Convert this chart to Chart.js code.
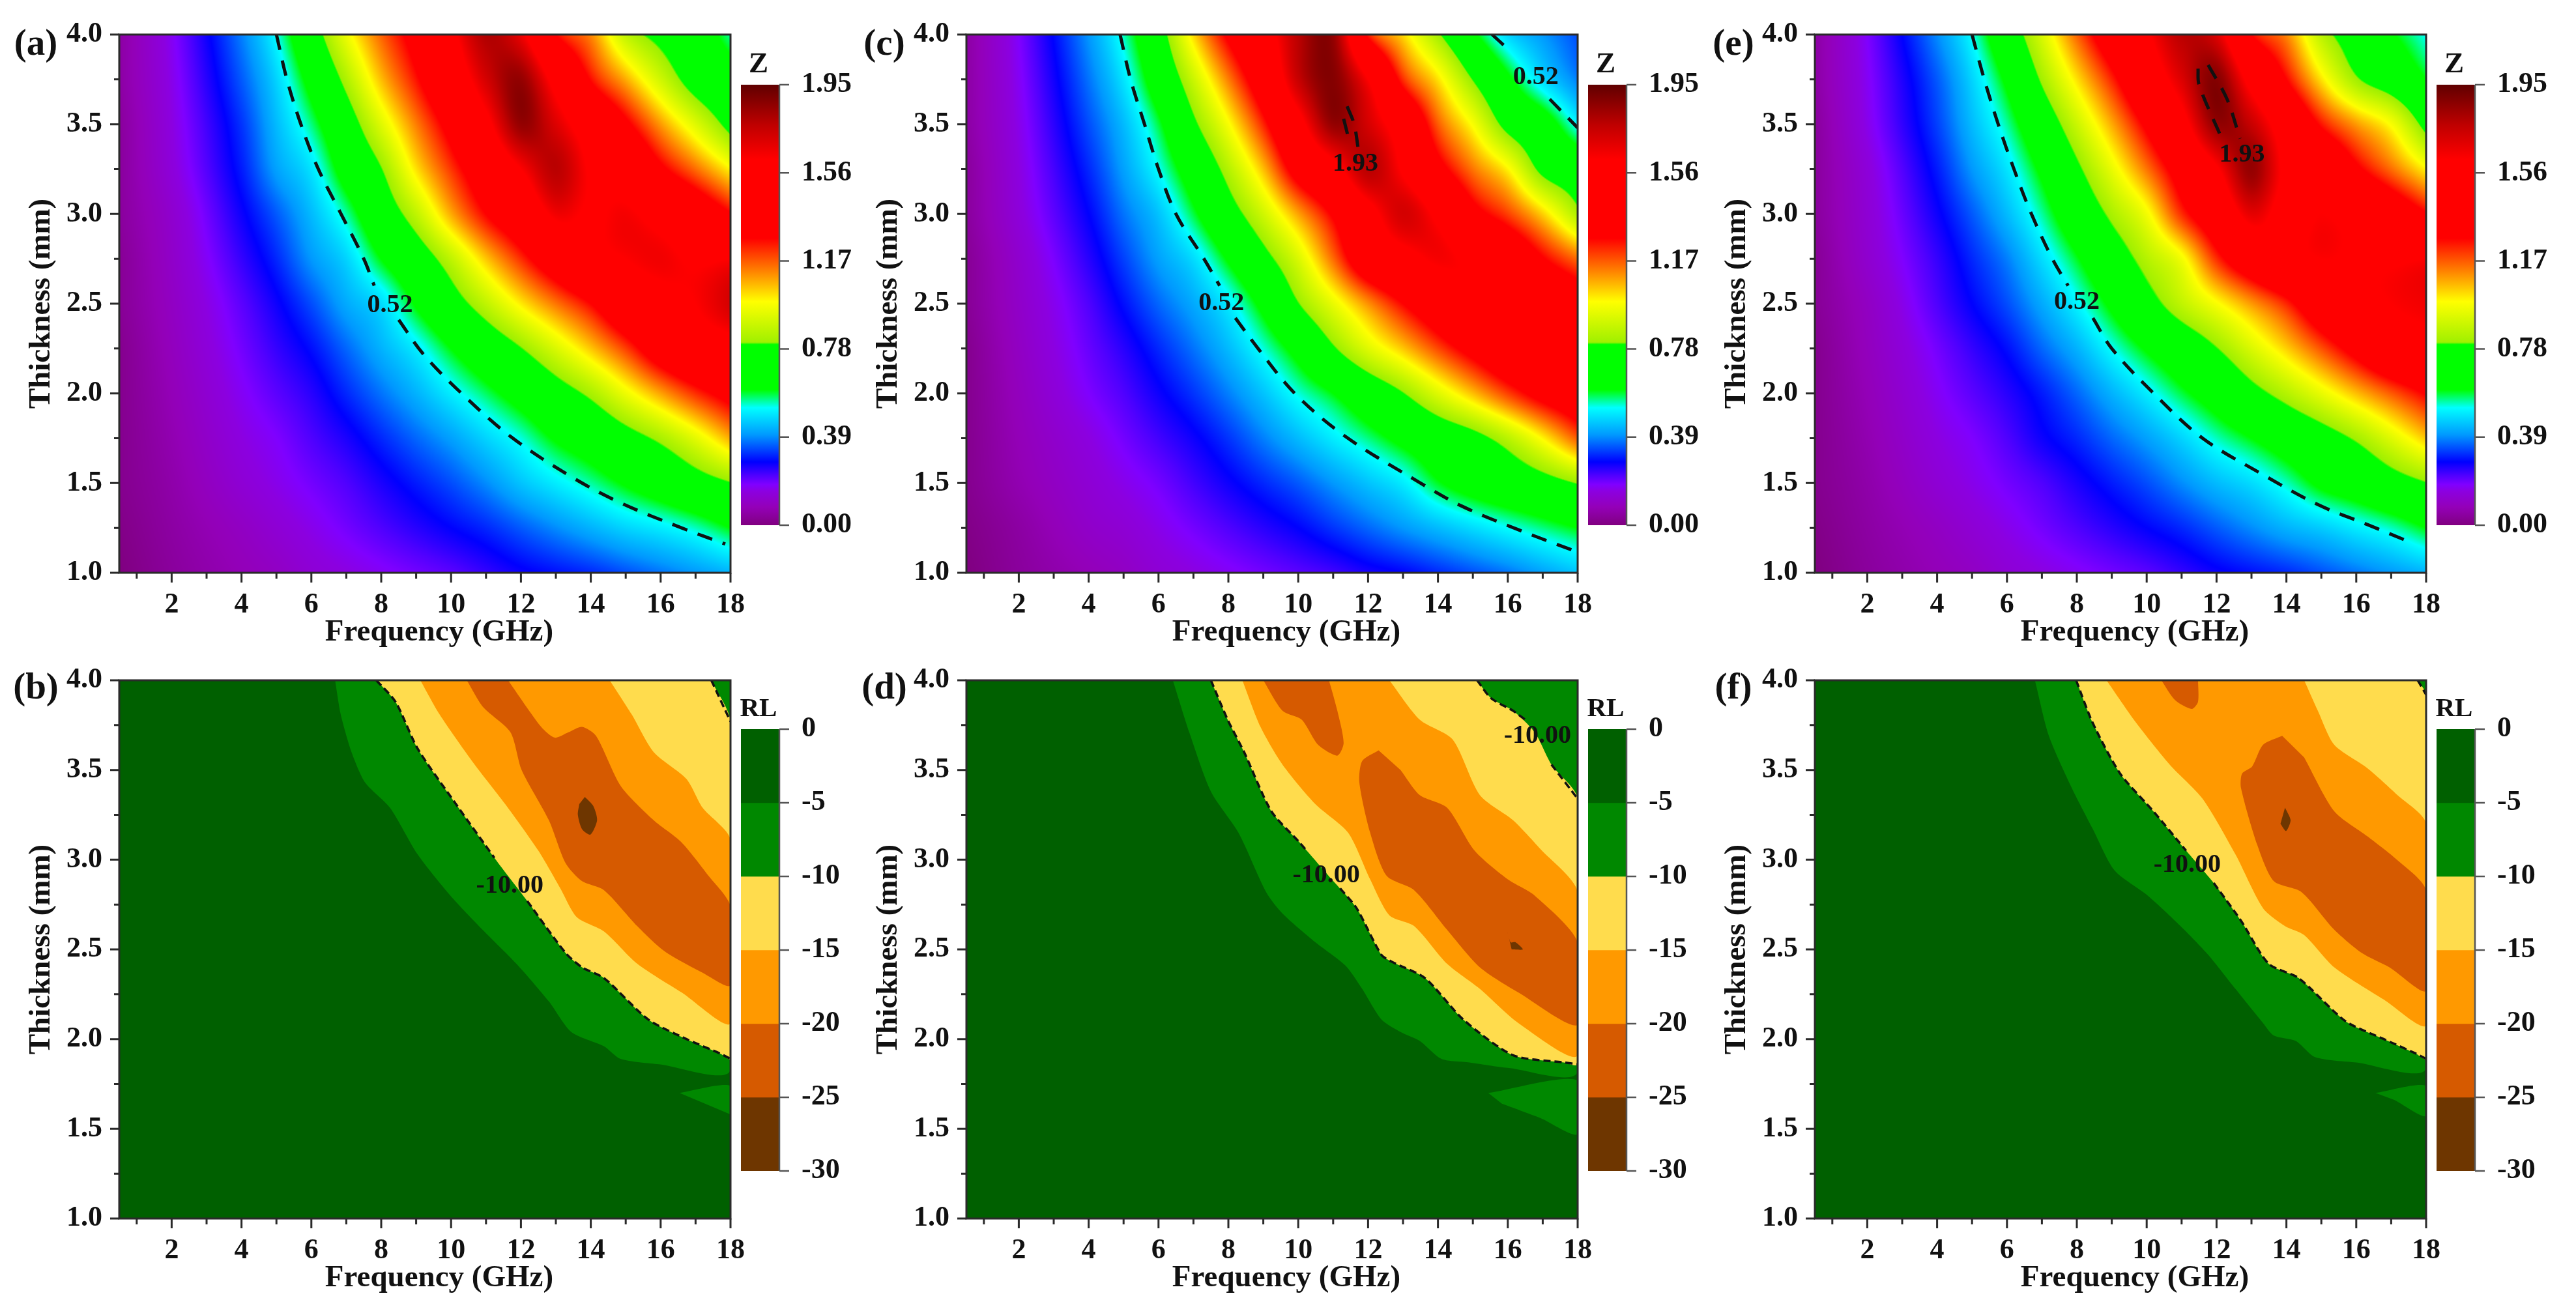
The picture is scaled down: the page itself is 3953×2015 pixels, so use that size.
<!DOCTYPE html>
<html>
<head>
<meta charset="utf-8">
<title>Z and RL maps</title>
<script src="https://cdn.jsdelivr.net/npm/chart.js@4"></script>
<style>
  html, body { margin: 0; background: #fff; }
  #page { position: relative; width: 3953px; height: 2015px; overflow: hidden; }
  canvas { position: absolute; }
  .txt { position: absolute; font-family: "Liberation Serif", serif; font-weight: bold; color: #111; line-height: 1; transform: translate(-50%, -50%); white-space: nowrap; }
</style>
</head>
<body>
<div id="page"></div>
<script>
// grid of the Z maps
const freqCols = [0.5, 2, 4, 5, 6, 7, 8, 9, 10, 11, 12, 13, 14, 15, 16, 17, 18]
const thickRows = [4, 3.75, 3.5, 3.25, 3, 2.75, 2.5, 2.25, 2, 1.75, 1.5, 1.25, 1]

const zGridA = [
  [.05,.17,.38,.52,.73,.96,1.16,1.34,1.58,1.80,1.66,1.27,1.12,.87,.76,.68,.55],
  [.05,.16,.35,.47,.64,.84,1.06,1.25,1.47,1.72,1.85,1.55,1.26,1.08,.90,.74,.66],
  [.04,.15,.32,.44,.56,.73,.93,1.13,1.33,1.57,1.85,1.70,1.50,1.30,1.10,.93,.76],
  [.04,.14,.30,.41,.49,.65,.80,1.02,1.21,1.40,1.62,1.78,1.60,1.50,1.30,1.15,1.00],
  [.04,.12,.27,.35,.44,.55,.71,.87,1.08,1.27,1.43,1.65,1.60,1.64,1.55,1.42,1.28],
  [.03,.11,.24,.31,.40,.47,.60,.72,.87,1.05,1.22,1.40,1.55,1.62,1.65,1.60,1.62],
  [.03,.10,.21,.27,.34,.42,.48,.61,.74,.87,1.01,1.14,1.27,1.45,1.55,1.62,1.72],
  [.02,.09,.19,.24,.29,.36,.43,.50,.60,.70,.80,.92,1.05,1.20,1.38,1.50,1.55],
  [.02,.08,.17,.21,.25,.31,.37,.43,.50,.57,.65,.74,.83,.96,1.09,1.22,1.33],
  [.02,.07,.15,.18,.22,.26,.31,.36,.41,.47,.53,.61,.67,.75,.83,.94,1.08],
  [.02,.06,.13,.16,.19,.22,.26,.30,.34,.39,.45,.50,.55,.61,.67,.74,.80],
  [.01,.05,.10,.13,.16,.19,.22,.25,.28,.31,.35,.39,.43,.47,.50,.54,.60],
  [.00,.04,.08,.10,.13,.15,.17,.19,.21,.24,.27,.29,.31,.34,.37,.40,.43]
]
const zGridC = [
  [.05,.18,.40,.54,.74,1.03,1.30,1.52,1.78,1.85,1.24,1.03,.82,.62,.47,.40,.34],
  [.05,.17,.37,.49,.67,.89,1.13,1.40,1.75,1.88,1.62,1.22,1.02,.80,.62,.48,.38],
  [.05,.16,.34,.44,.58,.78,.98,1.23,1.55,1.85,1.72,1.50,1.17,.98,.76,.66,.51],
  [.04,.15,.31,.41,.52,.67,.85,1.06,1.35,1.55,1.78,1.60,1.33,1.14,1.00,.77,.70],
  [.04,.14,.28,.37,.45,.58,.74,.90,1.09,1.29,1.55,1.72,1.58,1.33,1.20,1.04,.84],
  [.03,.12,.25,.33,.41,.48,.61,.76,.92,1.15,1.42,1.55,1.64,1.58,1.45,1.28,1.15],
  [.03,.11,.22,.29,.36,.42,.50,.63,.80,.95,1.11,1.27,1.42,1.58,1.55,1.48,1.40],
  [.02,.10,.20,.25,.31,.37,.44,.53,.64,.79,.93,1.05,1.19,1.33,1.45,1.55,1.62],
  [.02,.09,.18,.22,.27,.32,.38,.45,.53,.60,.70,.80,.93,1.06,1.20,1.33,1.42],
  [.02,.08,.15,.19,.23,.27,.32,.38,.44,.50,.56,.63,.70,.76,.86,1.00,1.17],
  [.02,.07,.13,.16,.19,.23,.27,.31,.35,.40,.45,.50,.59,.65,.70,.75,.81],
  [.01,.05,.11,.13,.16,.19,.22,.25,.28,.32,.36,.40,.44,.48,.52,.56,.60],
  [.00,.04,.08,.10,.13,.15,.17,.19,.21,.23,.26,.28,.31,.34,.37,.41,.45]
]
const zGridE = [
  [.05,.18,.39,.52,.71,.92,1.16,1.40,1.60,1.78,1.70,1.27,1.12,.86,.72,.61,.52],
  [.05,.17,.35,.47,.62,.82,1.02,1.23,1.48,1.70,1.88,1.55,1.27,1.02,.82,.72,.60],
  [.04,.16,.33,.44,.55,.71,.89,1.08,1.30,1.55,1.85,1.75,1.50,1.25,1.10,.98,.76],
  [.04,.14,.30,.40,.49,.62,.78,.95,1.14,1.36,1.60,1.85,1.58,1.50,1.30,1.15,1.00],
  [.04,.13,.27,.35,.44,.55,.69,.83,.97,1.22,1.42,1.68,1.55,1.62,1.55,1.42,1.28],
  [.03,.12,.24,.31,.38,.48,.59,.72,.85,.97,1.22,1.42,1.55,1.62,1.60,1.60,1.62],
  [.03,.10,.22,.28,.34,.42,.51,.62,.75,.87,.98,1.10,1.23,1.42,1.55,1.62,1.65],
  [.02,.09,.19,.24,.29,.36,.43,.52,.61,.70,.80,.92,1.04,1.18,1.33,1.48,1.55],
  [.02,.08,.17,.21,.25,.30,.36,.43,.50,.58,.66,.76,.85,.95,1.06,1.17,1.28],
  [.02,.07,.15,.18,.22,.27,.31,.36,.41,.47,.54,.60,.67,.74,.82,.93,1.05],
  [.02,.06,.13,.16,.19,.22,.26,.30,.34,.39,.44,.48,.54,.62,.67,.74,.80],
  [.01,.05,.10,.13,.16,.19,.22,.25,.28,.31,.35,.39,.43,.46,.50,.54,.60],
  [.00,.04,.08,.10,.13,.15,.17,.19,.21,.24,.27,.29,.31,.34,.37,.40,.43]
]

// dashed contours of the Z maps, [frequency, thickness]
const zLineA1 = [[5,4],[5.3,3.75],[5.7,3.5],[6.2,3.25],[6.85,3],[7.5,2.75],[7.8,2.6]]
const zLineA2 = [[8.5,2.41],[9.2,2.22],[10.3,2],[11.7,1.76],[13.4,1.54],[14.85,1.39],[16.6,1.25],[17.85,1.16]]
const zLineC1 = [[4.9,4],[5.2,3.75],[5.6,3.5],[6,3.25],[6.5,3],[7.3,2.75],[7.75,2.6]]
const zLineC2 = [[8.2,2.42],[8.85,2.25],[9.9,2],[11.35,1.76],[13.5,1.5],[14.7,1.37],[16.3,1.24],[18,1.115]]
const zLineC3 = [[15.55,4],[16,3.92]]
const zLineC4 = [[17.2,3.64],[18,3.48]]
const zLineC5 = [[11.4,3.6],[11.6,3.5],[11.72,3.36]]
const zLineC6 = [[11.3,3.53],[11.43,3.43]]
const zLineE1 = [[5,4],[5.35,3.75],[5.75,3.5],[6.2,3.25],[6.7,3],[7.3,2.75],[7.75,2.6]]
const zLineE2 = [[8.46,2.42],[9,2.25],[10.2,2],[11.6,1.75],[13.3,1.55],[14.9,1.38],[16.3,1.27],[17.55,1.17]]
const zLineE3 = [[11.47,3.81],[11.5,3.72],[12.15,3.42]]
const zLineE4 = [[11.76,3.83],[12.3,3.64],[12.67,3.42]]

// RL band outlines, [frequency, thickness]
const rlFrame = [[0.5,1],[18,1],[18,4],[0.5,4]]
const bBand5 = [[6.68,4],[6.84,3.81],[7.15,3.6],[7.54,3.43],[8.25,3.29],[9.04,3.03],[9.98,2.8],[10.9,2.61],[11.87,2.42],[12.8,2.21],[13.44,2.04],[14.38,1.96],[14.85,1.89],[15.95,1.86],[18,1.83],[18,4]]
const bWedge = [[16.54,1.7],[18,1.74],[18,1.58]]
const bBand10 = [[7.86,4],[8.41,3.88],[9.04,3.62],[10.14,3.31],[11.24,3.01],[12.18,2.77],[13.28,2.48],[13.75,2.4],[14.38,2.34],[15.64,2.11],[16.74,2],[17.7,1.92],[18,1.89],[18,3.77],[17.45,4]]
const bBand15 = [[9.12,4],[9.67,3.81],[10.6,3.55],[11.55,3.31],[12.5,3.05],[13.13,2.84],[13.6,2.68],[14.38,2.6],[15.33,2.42],[16.6,2.26],[18,2.09],[18,3.11],[17.2,3.29],[16.74,3.45],[15.8,3.6],[15.17,3.81],[14.54,4]]
const bBand20 = [[10.45,4],[10.92,3.85],[11.7,3.71],[12.02,3.5],[12.8,3.22],[13.28,2.98],[13.75,2.88],[14.38,2.83],[15.33,2.63],[16.11,2.49],[17.2,2.37],[18,2.3],[18,2.74],[17.37,2.91],[16.58,3.1],[15.8,3.22],[14.86,3.41],[14.15,3.69],[13.75,3.74],[13.36,3.71],[12.97,3.68],[12.58,3.74],[11.63,4]]
const bBand25 = [[13.83,3.35],[14.07,3.3],[14.18,3.22],[13.99,3.14],[13.75,3.17],[13.63,3.25],[13.67,3.31]]
const bLine1 = [[7.86,4],[8.41,3.88],[9.04,3.62],[10.14,3.31],[11.24,3.01]]
const bLine2 = [[12.18,2.77],[13.28,2.48],[13.75,2.4],[14.38,2.34],[15.64,2.11],[16.74,2],[17.7,1.92],[18,1.89]]
const bLine3 = [[17.45,4],[18,3.77]]

const dBand5 = [[6.41,4],[6.88,3.71],[7.5,3.38],[8.29,3.15],[9.08,2.82],[9.55,2.7],[10.49,2.54],[11.35,2.41],[11.83,2.28],[12.38,2.11],[12.93,2.04],[13.48,1.99],[14.1,1.89],[14.9,1.87],[16,1.84],[18,1.82],[18,4]]
const dWedge = [[15.44,1.7],[18,1.77],[18,1.47],[16.93,1.56],[15.83,1.64]]
const dBand10 = [[7.5,4],[7.98,3.78],[8.45,3.6],[9.23,3.27],[10.02,3.1],[10.96,2.89],[11.67,2.73],[12.38,2.47],[12.69,2.43],[13.63,2.34],[14.72,2.11],[16.15,1.91],[17.6,1.87],[18,1.86],[18,3.34],[17.25,3.53],[16.77,3.71],[16.15,3.83],[15.52,3.9],[15.12,4]]
const dBand15 = [[8.4,4],[8.92,3.74],[9.55,3.53],[10.49,3.31],[11.43,3.15],[12.06,2.89],[12.61,2.69],[13.32,2.63],[14.26,2.42],[15.2,2.28],[16.3,2.09],[18,1.91],[18,2.82],[16.93,3.06],[16.15,3.22],[15.2,3.36],[14.42,3.67],[13.48,3.78],[12.61,4]]
const dBand20a = [[9,4],[9.55,3.83],[10.1,3.78],[10.57,3.64],[11.12,3.58],[11.3,3.65],[11.12,3.83],[10.88,4]]
const dBand20b = [[12.3,3.61],[11.83,3.55],[11.75,3.43],[12.06,3.15],[12.53,2.91],[13.32,2.83],[14.26,2.61],[15.2,2.4],[16.3,2.26],[18,2.08],[18,2.54],[16.77,2.8],[16,2.89],[15.05,3.05],[14.26,3.29],[13.48,3.36],[12.93,3.5]]
const dBand25 = [[15.99,2.6],[16.08,2.54],[16.22,2.54],[16.43,2.5],[16.11,2.5]]
const dLine1 = [[7.5,4],[7.98,3.78],[8.45,3.6],[9.23,3.27],[10.02,3.1],[10.2,3.06]]
const dLine2 = [[11.2,2.84],[11.67,2.73],[12.38,2.47],[12.69,2.43],[13.63,2.34],[14.72,2.11],[16.15,1.91],[17.6,1.87],[18,1.86]]
const dLine3 = [[15.12,4],[15.52,3.9],[16.15,3.83],[16.5,3.78]]
const dLine4 = [[17.25,3.53],[18,3.34]]

const fBand5 = [[6.8,4],[7.2,3.69],[7.83,3.41],[8.46,3.17],[9.08,2.94],[10.03,2.8],[10.97,2.63],[11.76,2.47],[12.54,2.28],[13.33,2.09],[13.64,2.02],[14.27,1.99],[14.82,1.9],[16,1.87],[18,1.84],[18,4]]
const fWedge = [[16.55,1.7],[18,1.74],[18,1.57],[17.1,1.66]]
const fBand10 = [[7.98,4],[8.46,3.76],[9.24,3.48],[10.19,3.27],[11.13,3.05],[11.92,2.87],[12.7,2.66],[13.49,2.42],[14.35,2.34],[15.69,2.1],[16.79,2],[17.7,1.92],[18,1.89],[18,3.92],[17.76,4]]
const fBand15 = [[8.85,4],[9.71,3.76],[10.66,3.53],[11.6,3.34],[12.54,3.03],[13.33,2.73],[13.96,2.63],[14.51,2.58],[15.37,2.4],[16.79,2.22],[18,2.08],[18,3.2],[17.18,3.36],[16.32,3.51],[15.37,3.64],[14.9,3.83],[14.51,4]]
const fBand20a = [[10.42,4],[10.81,3.89],[11.29,3.84],[11.47,3.88],[11.47,4]]
const fBand20b = [[13.88,3.69],[13.33,3.64],[13.02,3.52],[12.73,3.48],[12.7,3.4],[13.17,3.08],[13.64,2.88],[14.43,2.82],[15.37,2.61],[16.16,2.48],[16.95,2.4],[18,2.27],[18,2.83],[17.1,3.01],[16.32,3.13],[15.37,3.27],[14.51,3.57]]
const fBand25 = [[13.96,3.29],[14.12,3.22],[13.99,3.16],[13.83,3.2]]
const fLine1 = [[7.98,4],[8.46,3.76],[9.24,3.48],[10.19,3.27],[11.13,3.05]]
const fLine2 = [[11.92,2.87],[12.7,2.66],[13.49,2.42],[14.35,2.34],[15.69,2.1],[16.79,2],[17.7,1.92],[18,1.89]]
const fLine3 = [[17.76,4],[18,3.92]]

// ticks and colour bars
const freqTicks = [2, 4, 6, 8, 10, 12, 14, 16, 18]
const freqMinor = [1, 3, 5, 7, 9, 11, 13, 15, 17]
const thickTicks = [1, 1.5, 2, 2.5, 3, 3.5, 4]
const thickMinor = [1.25, 1.75, 2.25, 2.75, 3.25, 3.75]
const zBarTicks = [0, 0.39, 0.78, 1.17, 1.56, 1.95]
const rlBarTicks = [-30, -25, -20, -15, -10, -5, 0]
const zStops = [0, .08, .15, .18, .22, .28, .40, .52, .60, .80, .81, .99, 1.11, 1.27, 1.62, 1.77, 1.95]
const zColors = ['#800080', '#9400b8', '#8c00e0', '#8000ff', '#5000ff', '#0000ff', '#0099ff', '#00ffff', '#00ff00', '#00ff00', '#a0f000', '#ffff00', '#ff9000', '#ff0000', '#ff0000', '#c00000', '#600000']
const rlBands = [[-5, 0], [-10, -5], [-15, -10], [-20, -15], [-25, -20], [-30, -25]]
const rlColors = ['#006000', '#008800', '#ffdc4d', '#ff9900', '#d65a00', '#6e3600']

const SERIF = "'Liberation Serif', serif"
Chart.defaults.font.family = SERIF
Chart.defaults.font.weight = 'bold'
Chart.defaults.color = '#111'
Chart.defaults.animation = false

const page = document.getElementById('page')
const PLOT_W = 938, PLOT_H = 826
const INK = '#2a2a2a'
const TICK_SIZE = 44, TITLE_SIZE = 47

function addCanvas(x, y, w, h) {
  const c = document.createElement('canvas')
  c.width = w
  c.height = h
  c.style.left = x + 'px'
  c.style.top = y + 'px'
  page.appendChild(c)
  return c
}

function addText(str, x, y, size) {
  const d = document.createElement('div')
  d.className = 'txt'
  d.textContent = str
  d.style.left = x + 'px'
  d.style.top = y + 'px'
  d.style.fontSize = size + 'px'
  page.appendChild(d)
}

// colour lookup for the Z scale
const lutSize = 2048
const lut = new Uint8Array(lutSize * 3)
function hexRgb(h) { return [1, 3, 5].map(i => parseInt(h.slice(i, i + 2), 16)) }
for (let i = 0; i < lutSize; i++) {
  const v = i / (lutSize - 1) * 1.95
  let k = 0
  while (k < zStops.length - 2 && v > zStops[k + 1]) k++
  const a = hexRgb(zColors[k]), b = hexRgb(zColors[k + 1])
  const u = (v - zStops[k]) / (zStops[k + 1] - zStops[k])
  for (let c = 0; c < 3; c++) lut[i * 3 + c] = a[c] + (b[c] - a[c]) * u
}

function hermite(xs, ys, x) {
  let i = 0
  const n = xs.length
  while (i < n - 2 && x > xs[i + 1]) i++
  const h = xs[i + 1] - xs[i]
  const u = Math.max(0, Math.min(1, (x - xs[i]) / h))
  const m0 = i > 0 ? (ys[i + 1] - ys[i - 1]) / (xs[i + 1] - xs[i - 1]) : (ys[1] - ys[0]) / h
  const m1 = i < n - 2 ? (ys[i + 2] - ys[i]) / (xs[i + 2] - xs[i]) : (ys[n - 1] - ys[n - 2]) / h
  const u2 = u * u, u3 = u2 * u
  return (2 * u3 - 3 * u2 + 1) * ys[i] + (u3 - 2 * u2 + u) * h * m0 + (-2 * u3 + 3 * u2) * ys[i + 1] + (u3 - u2) * h * m1
}

// paints the Z grid behind the datasets, every pixel goes through the scales
function heatPlugin(grid) {
  let cache = null
  const rowsUp = [...thickRows].reverse()
  const gridUp = [...grid].reverse()
  return {
    id: 'heat',
    beforeDatasetsDraw(chart) {
      const a = chart.chartArea, xs = chart.scales.x, ys = chart.scales.y
      const w = Math.round(a.right - a.left), h = Math.round(a.bottom - a.top)
      if (!cache) {
        cache = document.createElement('canvas')
        cache.width = w
        cache.height = h
        const cx = cache.getContext('2d')
        const img = cx.createImageData(w, h)
        for (let px = 0; px < w; px++) {
          const f = xs.getValueForPixel(a.left + px + 0.5)
          const col = gridUp.map(r => hermite(freqCols, r, f))
          for (let py = 0; py < h; py++) {
            const t = ys.getValueForPixel(a.top + py + 0.5)
            const v = hermite(rowsUp, col, t)
            const k = Math.max(0, Math.min(lutSize - 1, Math.round(v / 1.95 * (lutSize - 1))))
            const o = (py * w + px) * 4
            img.data[o] = lut[k * 3]
            img.data[o + 1] = lut[k * 3 + 1]
            img.data[o + 2] = lut[k * 3 + 2]
            img.data[o + 3] = 255
          }
        }
        cx.putImageData(img, 0, 0)
      }
      chart.ctx.drawImage(cache, a.left, a.top)
    }
  }
}

// frame, tick marks and the contour labels
function framePlugin(labels) {
  return {
    id: 'frame',
    afterDatasetsDraw(chart) {
      const c = chart.ctx, a = chart.chartArea, xs = chart.scales.x, ys = chart.scales.y
      c.save()
      c.strokeStyle = INK
      c.lineWidth = 3
      c.strokeRect(a.left, a.top, a.right - a.left, a.bottom - a.top)
      c.beginPath()
      freqTicks.forEach(v => { const p = xs.getPixelForValue(v); c.moveTo(p, a.bottom); c.lineTo(p, a.bottom + 15) })
      freqMinor.forEach(v => { const p = xs.getPixelForValue(v); c.moveTo(p, a.bottom); c.lineTo(p, a.bottom + 9) })
      thickTicks.forEach(v => { const p = ys.getPixelForValue(v); c.moveTo(a.left, p); c.lineTo(a.left - 14, p) })
      thickMinor.forEach(v => { const p = ys.getPixelForValue(v); c.moveTo(a.left, p); c.lineTo(a.left - 8, p) })
      c.stroke()
      c.fillStyle = '#111'
      c.font = 'bold 40px ' + SERIF
      c.textAlign = 'center'
      c.textBaseline = 'middle'
      labels.forEach(l => c.fillText(l[0], xs.getPixelForValue(l[1]), ys.getPixelForValue(l[2])))
      c.restore()
    }
  }
}

const pts = list => list.map(p => ({ x: p[0], y: p[1] }))

function bandSet(list, color, tension) {
  return { data: pts(list), showLine: true, fill: 'shape', backgroundColor: color, borderWidth: 0, borderDash: [1], tension, pointRadius: 0 }
}

function dashSet(list, width, dash, tension) {
  return { data: pts(list), showLine: true, fill: false, borderColor: '#111', borderWidth: width, borderDash: dash, tension, pointRadius: 0 }
}

// the x title sits to the right of the plot centre in the figure
function shiftTitle(s, dx) {
  if (s.titleShifted) return
  s.titleShifted = true
  const draw = s.drawTitle
  s.drawTitle = function () {
    this.ctx.save()
    this.ctx.translate(dx, 0)
    draw.call(this)
    this.ctx.restore()
  }
}

function mainChart(left, top, datasets, plugins) {
  // first in the list is painted first
  datasets.forEach((d, i) => { d.order = datasets.length - i })
  const canvas = addCanvas(left - 147, top - 30, 147 + PLOT_W + 40, 30 + PLOT_H + 120)
  return new Chart(canvas, {
    type: 'scatter',
    data: { datasets },
    plugins,
    options: {
      responsive: false,
      devicePixelRatio: 1,
      layout: { padding: { top: 30, right: 40, left: 0, bottom: 0 } },
      plugins: { legend: { display: false }, tooltip: { enabled: false } },
      scales: {
        x: {
          type: 'linear', min: 0.5, max: 18,
          afterBuildTicks: s => { s.ticks = freqTicks.map(v => ({ value: v })) },
          afterFit: s => { s.height = 120; s.paddingLeft = 0; s.paddingRight = 0; shiftTitle(s, 22) },
          grid: { display: false, drawTicks: false }, border: { display: false },
          ticks: { font: { size: TICK_SIZE }, padding: 23, maxRotation: 0, minRotation: 0, autoSkip: false, callback: v => String(v) },
          title: { display: true, text: 'Frequency (GHz)', font: { size: TITLE_SIZE }, padding: 0 }
        },
        y: {
          type: 'linear', min: 1, max: 4,
          afterBuildTicks: s => { s.ticks = thickTicks.map(v => ({ value: v })) },
          afterFit: s => { s.width = 147; s.paddingTop = 0; s.paddingBottom = 0 },
          grid: { display: false, drawTicks: false }, border: { display: false },
          ticks: { font: { size: TICK_SIZE }, padding: 26, autoSkip: false, callback: v => v.toFixed(1) },
          title: { display: true, text: 'Thickness (mm)', font: { size: TITLE_SIZE }, padding: 0 }
        }
      }
    }
  })
}

function zPanel(left, top, grid, lines, labels) {
  const nodes = []
  grid.forEach((row, r) => row.forEach((v, c) => nodes.push({ x: freqCols[c], y: thickRows[r], z: v })))
  const sets = [{ data: nodes, pointRadius: 0 }].concat(lines.map(l => dashSet(l, 5, [24, 17], 0.35)))
  mainChart(left, top, sets, [heatPlugin(grid), framePlugin(labels)])
  barChart(left + PLOT_W + 16, top + 77, 676, 'z')
  addText('Z', left + PLOT_W + 43, top + 43, 45)
}

function rlPanel(left, top, bands, lines, labels) {
  const sets = [bandSet(rlFrame, rlColors[0], 0)]
    .concat(bands.map(b => bandSet(b[0], rlColors[b[1]], 0.25)))
    .concat(lines.map(l => dashSet(l, 3.5, [11, 6], 0.25)))
  mainChart(left, top, sets, [framePlugin(labels)])
  barChart(left + PLOT_W + 16, top + 75, 678, 'rl')
  addText('RL', left + PLOT_W + 43, top + 41, 41)
}

function barChart(x, y, h, kind) {
  const isZ = kind === 'z'
  const ticks = isZ ? zBarTicks : rlBarTicks
  const sets = isZ
    ? [{
        data: [[0, 1.95]],
        backgroundColor: ctx => {
          const s = ctx.chart.scales.y
          const p0 = s ? s.getPixelForValue(0) : NaN, p1 = s ? s.getPixelForValue(1.95) : NaN
          if (!isFinite(p0) || !isFinite(p1)) return zColors[0]
          const g = ctx.chart.ctx.createLinearGradient(0, p0, 0, p1)
          zStops.forEach((v, i) => g.addColorStop(v / 1.95, zColors[i]))
          return g
        }
      }]
    : rlBands.map((b, i) => ({ data: [b], backgroundColor: rlColors[i] }))
  const ticksPlugin = {
    id: 'barTicks',
    afterDatasetsDraw(chart) {
      const c = chart.ctx, a = chart.chartArea, s = chart.scales.y
      c.save()
      c.strokeStyle = '#555'
      c.lineWidth = 2.5
      c.beginPath()
      c.moveTo(a.right, a.top)
      c.lineTo(a.right, a.bottom)
      ticks.forEach(v => { const p = s.getPixelForValue(v); c.moveTo(a.right, p); c.lineTo(a.right + 15, p) })
      c.stroke()
      c.restore()
    }
  }
  const canvas = addCanvas(x, y - 40, 59 + 115, h + 80)
  return new Chart(canvas, {
    type: 'bar',
    data: { labels: [kind], datasets: sets },
    plugins: [ticksPlugin],
    options: {
      responsive: false,
      devicePixelRatio: 1,
      layout: { padding: { top: 40, bottom: 40, left: 0, right: 0 } },
      plugins: { legend: { display: false }, tooltip: { enabled: false } },
      datasets: { bar: { grouped: false, barPercentage: 1, categoryPercentage: 1 } },
      scales: {
        x: { display: false },
        y: {
          position: 'right', min: isZ ? 0 : -30, max: isZ ? 1.95 : 0,
          afterBuildTicks: s => { s.ticks = ticks.map(v => ({ value: v })) },
          afterFit: s => { s.width = 115; s.paddingTop = 0; s.paddingBottom = 0 },
          grid: { display: false, drawTicks: false }, border: { display: false },
          ticks: { font: { size: TICK_SIZE }, padding: 34, autoSkip: false, callback: v => isZ ? v.toFixed(2) : String(v) }
        }
      }
    }
  })
}

const topRow = 53, lowRow = 1044

zPanel(183, topRow, zGridA, [zLineA1, zLineA2], [['0.52', 8.25, 2.49]])
zPanel(1483, topRow, zGridC, [zLineC1, zLineC2, zLineC3, zLineC4, zLineC5, zLineC6],
  [['0.52', 7.8, 2.5], ['0.52', 16.8, 3.76], ['1.93', 11.64, 3.28]])
zPanel(2785, topRow, zGridE, [zLineE1, zLineE2, zLineE3, zLineE4], [['0.52', 8, 2.51], ['1.93', 12.73, 3.33]])

rlPanel(183, lowRow,
  [[bBand5, 1], [bWedge, 1], [bBand10, 2], [bBand15, 3], [bBand20, 4], [bBand25, 5]],
  [bLine1, bLine2, bLine3], [['-10.00', 11.68, 2.855]])
rlPanel(1483, lowRow,
  [[dBand5, 1], [dWedge, 1], [dBand10, 2], [dBand15, 3], [dBand20a, 4], [dBand20b, 4], [dBand25, 5]],
  [dLine1, dLine2, dLine3, dLine4], [['-10.00', 10.8, 2.91], ['-10.00', 16.85, 3.69]])
rlPanel(2785, lowRow,
  [[fBand5, 1], [fWedge, 1], [fBand10, 2], [fBand15, 3], [fBand20a, 4], [fBand20b, 4], [fBand25, 5]],
  [fLine1, fLine2, fLine3], [['-10.00', 11.16, 2.97]])

addText('(a)', 55, 64, 57)
addText('(b)', 55, 1052, 57)
addText('(c)', 1357, 64, 57)
addText('(d)', 1357, 1052, 57)
addText('(e)', 2660, 64, 57)
addText('(f)', 2660, 1052, 57)
</script>
</body>
</html>
